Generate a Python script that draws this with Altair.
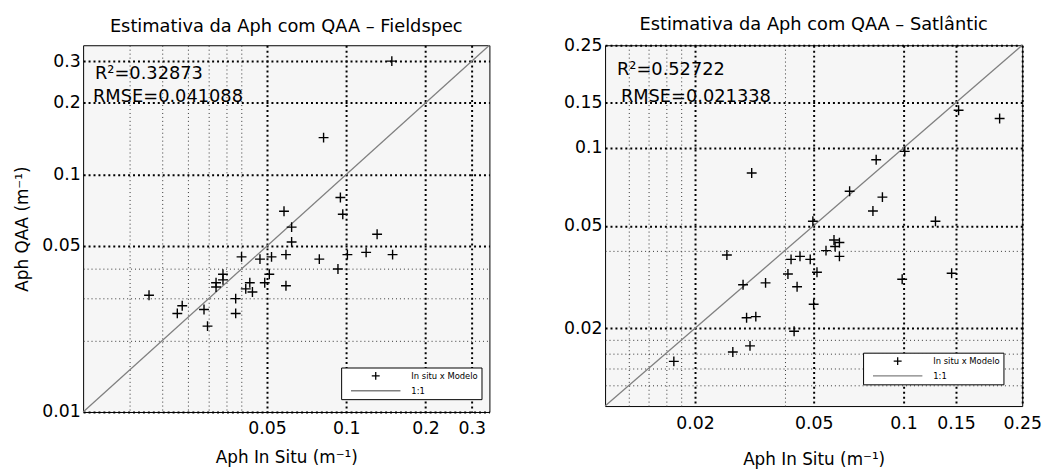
import json
import altair as alt
import pandas as pd

# ---------------- data ----------------
fs_insitu = [0.149, 0.082, 0.095, 0.097, 0.058, 0.062, 0.131, 0.062, 0.101, 0.119,
             0.150, 0.079, 0.093, 0.059, 0.052, 0.047, 0.040, 0.059, 0.051, 0.049,
             0.043, 0.0415, 0.044, 0.034, 0.034, 0.032, 0.032, 0.038, 0.038, 0.0178,
             0.0228, 0.0238, 0.0288, 0.0297]
fs_qaa = [0.300, 0.143, 0.080, 0.068, 0.070, 0.060, 0.056, 0.052, 0.046, 0.047,
          0.046, 0.044, 0.040, 0.046, 0.045, 0.044, 0.045, 0.034, 0.038, 0.035,
          0.035, 0.033, 0.032, 0.038, 0.036, 0.035, 0.0336, 0.030, 0.026, 0.031,
          0.026, 0.028, 0.027, 0.023]

sat_insitu = [0.153, 0.21, 0.101, 0.081, 0.031, 0.066, 0.085, 0.079, 0.0497, 0.128,
              0.0585, 0.061, 0.059, 0.055, 0.061, 0.0256, 0.042, 0.045, 0.0487, 0.041,
              0.0513, 0.044, 0.029, 0.0345, 0.099, 0.145, 0.050, 0.0298, 0.032, 0.043,
              0.0306, 0.0268, 0.017]
sat_qaa = [0.140, 0.130, 0.097, 0.090, 0.080, 0.068, 0.0645, 0.057, 0.052, 0.052,
           0.044, 0.043, 0.0415, 0.040, 0.038, 0.0385, 0.037, 0.038, 0.037, 0.0325,
           0.033, 0.029, 0.0295, 0.030, 0.031, 0.0327, 0.0248, 0.022, 0.0222, 0.0195,
           0.0171, 0.0162, 0.0149]

fs_line = [0.01, 0.35]
sat_line = [0.01, 0.25]

fs_grid_x = [0.015, 0.02, 0.025, 0.03, 0.035, 0.04, 0.05, 0.1, 0.2, 0.3]
fs_labels_x = [0.05, 0.1, 0.2, 0.3]
fs_grid_y = [0.01, 0.02, 0.03, 0.04, 0.05, 0.1, 0.2, 0.3]
fs_labels_y = [0.01, 0.05, 0.1, 0.2, 0.3]
sat_grid = [0.012, 0.014, 0.016, 0.018, 0.02, 0.04, 0.05, 0.1, 0.15, 0.25]
sat_labels = [0.02, 0.05, 0.1, 0.15, 0.25]

legend_labels = ["In situ x Modelo", "1:1"]
fs_stats = ["R²=0.32873", "RMSE=0.041088"]
sat_stats = ["R²=0.52722", "RMSE=0.021338"]

titles = ["Estimativa da Aph com QAA – Fieldspec", "Estimativa da Aph com QAA – Satlântic"]
x_title = "Aph In Situ (m⁻¹)"
y_title = "Aph QAA (m⁻¹)"

# ---------------- style ----------------
FONT = "DejaVu Sans"
PLUS = "M-0.16,0H0.16M0,-0.16V0.16"
DASH = "M-1,0H1"


def make_axis(grid, labels, title, title_pad, label_pad):
    test = "indexof(%s, datum.value) >= 0" % json.dumps(labels)
    kw = dict(
        values=grid,
        labelExpr=f"{test} ? format(datum.value, '~g') : ''",
        ticks=False,
        domain=False,
        grid=True,
        gridOpacity=1,
        gridDash={"condition": {"test": test, "value": [2, 3]}, "value": [1, 3]},
        gridColor={"condition": {"test": test, "value": "#000000"}, "value": "#333333"},
        gridWidth={"condition": {"test": test, "value": 2.0}, "value": 1.0},
        labelFont=FONT,
        labelFontSize=17.5,
        labelColor="black",
        labelPadding=label_pad,
        labelOverlap=False,
        labelFlush=False,
        titleFont=FONT,
        titleFontSize=17,
        titleFontWeight="normal",
        titleColor="black",
        titlePadding=title_pad,
    )
    if title is None:
        return alt.Axis(title=None, **kw)
    return alt.Axis(title=title, **kw)


def panel(title, xs, ys, line, dom, gx, lx, gy, ly, w, h, ytitle, stats, leg_xy,
          stat_pos, title_offset, xt_pad, xl_pad):
    df = pd.DataFrame({"insitu": xs, "qaa": ys, "serie": [legend_labels[0]] * len(xs)})
    ldf = pd.DataFrame({"insitu": line, "qaa": line})
    sx = alt.Scale(type="log", domain=dom, nice=False)
    sy = alt.Scale(type="log", domain=dom, nice=False)
    leg = alt.Legend(
        title=None, orient="none", legendX=leg_xy[0], legendY=leg_xy[1],
        fillColor="white", strokeColor="black", padding=3,
        symbolSize=2500, symbolStrokeWidth=1.3, clipHeight=11, rowPadding=4,
        symbolOffset=6, labelOffset=10, labelFont=FONT, labelFontSize=8.5,
        labelColor="black",
    )
    lines = alt.Chart(ldf).mark_line(color="#808080", strokeWidth=1.3).encode(
        x=alt.X("insitu:Q", scale=sx, axis=make_axis(gx, lx, x_title, xt_pad, xl_pad)),
        y=alt.Y("qaa:Q", scale=sy, axis=make_axis(gy, ly, ytitle, 10, 3)),
    )
    pts = alt.Chart(df).mark_point(filled=False, size=3900, strokeWidth=1.4, opacity=1).encode(
        x=alt.X("insitu:Q", scale=sx),
        y=alt.Y("qaa:Q", scale=sy),
        shape=alt.Shape("serie:N", scale=alt.Scale(domain=legend_labels, range=[PLUS, DASH]), legend=leg),
        color=alt.Color("serie:N", scale=alt.Scale(domain=legend_labels, range=["black", "#808080"]), legend=leg),
    )
    texts = []
    for s, (px, py) in zip(stats, stat_pos):
        texts.append(
            alt.Chart(pd.DataFrame({"t": [s]})).mark_text(
                align="left", baseline="middle", font=FONT, fontSize=18, color="black"
            ).encode(x=alt.value(px), y=alt.value(py), text="t:N")
        )
    return alt.layer(lines, pts, *texts).properties(
        width=w, height=h,
        title=alt.TitleParams(title, font=FONT, fontSize=18, fontWeight="normal",
                              color="black", offset=title_offset, anchor="middle"),
    )


left = panel(titles[0], fs_insitu, fs_qaa, fs_line, [0.01, 0.35], fs_grid_x, fs_labels_x,
             fs_grid_y, fs_labels_y, 411, 371, y_title, fs_stats, (261, 326),
             [(12, 29), (10, 52)], 7, 13, 8)
right = panel(titles[1], sat_insitu, sat_qaa, sat_line, [0.01, 0.25], sat_grid, sat_labels,
              sat_grid, sat_labels, 422, 365, None, sat_stats, (261, 311),
              [(12, 25), (16, 52)], 2, 20, 9)

chart = alt.hconcat(left, right, spacing=70).resolve_scale(
    color="independent", shape="independent"
).resolve_legend(color="independent", shape="independent").configure_view(
    stroke="black", strokeWidth=1, fill="#f6f6f6"
).properties(padding={"left": 5, "top": 5, "right": 0, "bottom": 0})

chart.save("out.html", embed_options={"renderer": "svg", "actions": False})
